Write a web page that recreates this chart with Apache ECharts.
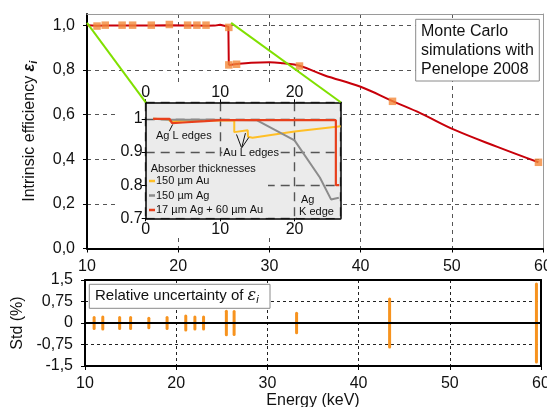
<!DOCTYPE html>
<html><head><meta charset="utf-8">
<script src="https://cdn.jsdelivr.net/npm/echarts@6/dist/echarts.min.js"></script>
<style>html,body{margin:0;padding:0;background:#fff}#c{width:547px;height:407px}</style>
</head><body><div id="c"></div>
<script>
// ---------- data ----------
const mainCurveLow = [[10,1.0],[11.1,0.997],[12,0.998],[13.9,0.998],[15.05,0.998],[17.07,0.999],[19.04,1.0],[21.02,0.998],[22.05,0.998],[23.1,0.997],[24.0,0.998],[24.6,1.002],[25.5,0.993],[25.55,0.821]];
const mainCurveHigh = [[25.55,0.821],[26.4,0.826],[28,0.832],[30,0.834],[31.5,0.829],[33.3,0.818],[36,0.776],[40,0.724],[43.5,0.66],[46.6,0.605],[50.25,0.532],[55,0.455],[59.5,0.386]];
const simEnergy = [11.1,12.0,13.85,15.0,17.05,19.03,21.03,22.05,23.05,25.55,25.55,26.4,33.3,43.5,59.5];
const simEff = [0.996,1.0,1.0,1.0,1.0,1.003,1.0,1.0,1.0,0.99,0.822,0.825,0.817,0.659,0.386];
const uncEnergy = [11.0,11.95,13.8,15.0,17.0,19.0,21.05,22.05,23.0,25.5,26.35,33.2,43.4,59.5];
const uncHalf = [0.19,0.21,0.19,0.19,0.17,0.19,0.24,0.21,0.21,0.41,0.4,0.34,0.84,1.36];
const inAu150 = [[1.0,1.0],[3.0,0.999],[3.3,0.993],[5,0.994],[8,0.995],[11.9,0.996],[11.9,0.96],[13.7,0.966],[13.75,0.946],[14.35,0.943],[20,0.962],[26.2,0.978]];
const inAg150 = [[1.0,1.0],[3.3,0.997],[8,0.997],[14.9,0.996],[20,0.935],[23.4,0.823],[24.9,0.757],[25.95,0.762]];
const inAgAu = [[1.0,1.0],[3.2,1.0],[3.55,0.987],[5,0.989],[8,0.993],[10,0.996],[20,0.996],[25.55,0.996],[25.55,0.8],[26.0,0.8]];
const agLPointer = [[3.17,0.963,3.62,0.983]];
const auLPointers = [[12.89,0.912,12.2,0.953],[12.89,0.912,13.4,0.957],[12.89,0.912,13.85,0.944]];
const mainXTicks = {min:10,max:60,interval:10};
const mainYTicks = {min:0,max:1.05,interval:0.2};
const stdYTicks = {min:-1.5,max:1.5,interval:0.75};
const insetX = {min:0,max:26.2,interval:10};
const insetY = {min:0.7,max:1.05,interval:0.1};
const zoomFrom = [[10,1.01],[25.8,1.01]];

const FF = 'Liberation Sans, Arial, sans-serif';
const chart = echarts.init(document.getElementById('c'), null, {renderer:'canvas'});
const comma = v => v.toFixed(1).replace('.', ',');
const stdFmt = v => v === 0 ? '0' : String(v).replace('.', ',');
const insetYFmt = v => Math.abs(v-1) < 1e-9 ? '1' : v.toFixed(1);
const lab = (m) => ({fontSize:16, color:'#111', fontFamily:FF, margin:m});
const none = {show:false};
const mainSplit = {show:true, lineStyle:{color:'#555', type:[4,4], width:1}};
const stdSplit = {show:true, lineStyle:{color:'#222', type:[3,3], width:1}};
const inSplit = {show:true, lineStyle:{color:'#555', type:[9,6], width:1.4}};

const option = {
  animation:false,
  textStyle:{fontFamily:FF},
  grid:[
    {left:87, right:4, top:14, bottom:158.5, z:0, outerBoundsMode:'none', containLabel:false},
    {left:85, right:6, top:280, bottom:41, z:0, outerBoundsMode:'none', containLabel:false},
    {left:145.7, right:206.3, top:102.3, bottom:188.7, z:2, show:true, backgroundColor:'#ebebeb', borderWidth:0, outerBoundsMode:'none', containLabel:false}
  ],
  xAxis:[
    Object.assign({gridIndex:0, type:'value', position:'bottom', z:0,
      axisLine:{onZero:false, lineStyle:{color:'#000', width:2}},
      axisTick:{show:true, inside:false, length:4, lineStyle:{color:'#000'}},
      axisLabel:lab(10), splitLine:mainSplit}, mainXTicks),
    Object.assign({gridIndex:0, type:'value', position:'top', z:0,
      axisLine:{onZero:false, lineStyle:{color:'#9a9a9a', width:1}}, axisTick:none, axisLabel:none, splitLine:none}, mainXTicks),
    Object.assign({gridIndex:1, type:'value', position:'bottom', z:0,
      axisLine:{onZero:false, lineStyle:{color:'#000', width:2}},
      axisTick:{show:true, length:4, lineStyle:{color:'#000'}},
      axisLabel:lab(10), splitLine:stdSplit,
      name:'Energy (keV)', nameLocation:'middle', nameGap:26,
      nameTextStyle:{fontSize:16, color:'#111', fontFamily:FF}}, mainXTicks),
    Object.assign({gridIndex:1, type:'value', position:'top', z:0,
      axisLine:{onZero:false, lineStyle:{color:'#000', width:2}}, axisTick:none, axisLabel:none, splitLine:none}, mainXTicks),
    Object.assign({gridIndex:2, type:'value', position:'bottom', z:3,
      axisLine:{onZero:false, lineStyle:{color:'#000', width:1.5}},
      axisTick:{show:true, length:3, lineStyle:{color:'#000'}},
      axisLabel:Object.assign(lab(3),{showMaxLabel:false}), splitLine:inSplit}, insetX),
    Object.assign({gridIndex:2, type:'value', position:'top', z:3,
      axisLine:{onZero:false, lineStyle:{color:'#000', width:1.5}},
      axisTick:{show:true, length:3, lineStyle:{color:'#000'}},
      axisLabel:Object.assign(lab(2),{showMaxLabel:false}), splitLine:none}, insetX)
  ],
  yAxis:[
    Object.assign({gridIndex:0, type:'value', position:'left', z:0,
      axisLine:{onZero:false, lineStyle:{color:'#000', width:2}},
      axisTick:{show:true, length:4, lineStyle:{color:'#000'}},
      axisLabel:Object.assign(lab(12),{formatter:comma, showMaxLabel:false}), splitLine:mainSplit,
      name:'{t|Intrinsic efficiency }{e|ε}{s|i}', nameLocation:'middle', nameGap:48,
      nameTextStyle:{color:'#111', rich:{
        t:{fontSize:16, fontFamily:FF, color:'#111'},
        e:{fontSize:16, fontFamily:FF, fontWeight:'bold', fontStyle:'italic', color:'#111'},
        s:{fontSize:11, fontFamily:FF, fontWeight:'bold', fontStyle:'italic', color:'#111', verticalAlign:'bottom', padding:[8,0,0,0]}}}}, mainYTicks),
    Object.assign({gridIndex:0, type:'value', position:'right', z:0,
      axisLine:{onZero:false, lineStyle:{color:'#9a9a9a', width:1}}, axisTick:none, axisLabel:none, splitLine:none}, mainYTicks),
    Object.assign({gridIndex:1, type:'value', position:'left', z:0,
      axisLine:{onZero:false, lineStyle:{color:'#000', width:2}},
      axisTick:{show:true, length:4, lineStyle:{color:'#000'}},
      axisLabel:Object.assign(lab(12),{formatter:stdFmt}), splitLine:stdSplit,
      name:'Std (%)', nameLocation:'middle', nameGap:52,
      nameTextStyle:{fontSize:16, color:'#111', fontFamily:FF}}, stdYTicks),
    Object.assign({gridIndex:1, type:'value', position:'right', z:0,
      axisLine:{onZero:false, lineStyle:{color:'#000', width:2}}, axisTick:none, axisLabel:none, splitLine:none}, stdYTicks),
    Object.assign({gridIndex:2, type:'value', position:'left', z:3,
      axisLine:{onZero:false, lineStyle:{color:'#000', width:1.5}},
      axisTick:{show:true, length:4, lineStyle:{color:'#000'}},
      axisLabel:Object.assign(lab(3),{formatter:insetYFmt, showMaxLabel:false}), splitLine:inSplit}, insetY),
    Object.assign({gridIndex:2, type:'value', position:'right', z:3,
      axisLine:{onZero:false, lineStyle:{color:'#000', width:1.5}}, axisTick:none, axisLabel:none, splitLine:none}, insetY)
  ],
  legend:{
    orient:'vertical', left:149, top:174.5, padding:0, itemGap:1.5, itemWidth:6, itemHeight:2.5,
    icon:'rect', z:6, data:['150 µm Au','150 µm Ag','17 µm Ag + 60 µm Au'],
    textStyle:{fontSize:11, lineHeight:13, color:'#111', fontFamily:FF, padding:[0,0,0,-4]}
  },
  series:[
    {name:'main-low', type:'line', xAxisIndex:0, yAxisIndex:0, data:mainCurveLow, showSymbol:false, z:3,
      lineStyle:{color:'#c8000a', width:2}, color:'#c8000a'},
    {name:'main-high', type:'line', xAxisIndex:0, yAxisIndex:0, data:mainCurveHigh, showSymbol:false, smooth:0.4, z:3,
      lineStyle:{color:'#c8000a', width:2}, color:'#c8000a'},
    {name:'sim', type:'scatter', xAxisIndex:0, yAxisIndex:0, symbol:'rect', symbolSize:7.5, z:4,
      data:simEnergy.map((e,i)=>[e, simEff[i]]), itemStyle:{color:'#f2883a'}},
    {name:'unc', type:'custom', xAxisIndex:2, yAxisIndex:2, z:3,
      data:uncEnergy.map((e,i)=>[e, uncHalf[i]]),
      renderItem:(params, api)=>{
        const a = api.coord([api.value(0), -api.value(1)]);
        const b = api.coord([api.value(0), api.value(1)]);
        return {type:'line', shape:{x1:a[0],y1:a[1],x2:b[0],y2:b[1]}, style:{stroke:'#f7931e', lineWidth:3, lineCap:'round'}};
      },
      markLine:{silent:true, symbol:['none','none'], label:{show:false}, z:4,
        lineStyle:{color:'#000', width:2, type:'solid'}, data:[{yAxis:0}]}},
    {name:'150 µm Au', type:'line', xAxisIndex:4, yAxisIndex:4, data:inAu150, showSymbol:false, z:4,
      lineStyle:{color:'#ffbf26', width:2}, color:'#ffbf26'},
    {name:'150 µm Ag', type:'line', xAxisIndex:4, yAxisIndex:4, data:inAg150, showSymbol:false, z:4,
      lineStyle:{color:'#8c8c8c', width:2}, color:'#8c8c8c'},
    {name:'17 µm Ag + 60 µm Au', type:'line', xAxisIndex:4, yAxisIndex:4, data:inAgAu, showSymbol:false, z:5,
      lineStyle:{color:'#e8401c', width:2.2}, color:'#e8401c'},
    {name:'pointers', type:'custom', xAxisIndex:4, yAxisIndex:4, z:7,
      data:agLPointer.concat(auLPointers),
      renderItem:(params, api)=>{
        const a = api.coord([api.value(0), api.value(1)]);
        const b = api.coord([api.value(2), api.value(3)]);
        return {type:'line', shape:{x1:a[0],y1:a[1],x2:b[0],y2:b[1]}, style:{stroke:'#111', lineWidth:1}};
      }}
  ]
};
chart.setOption(option);

// connector lines from main chart to inset corners
const p0 = chart.convertToPixel({xAxisIndex:0, yAxisIndex:0}, zoomFrom[0]);
const p1 = chart.convertToPixel({xAxisIndex:0, yAxisIndex:0}, zoomFrom[1]);
const q0 = chart.convertToPixel({xAxisIndex:4, yAxisIndex:4}, [insetX.min, insetY.max]);
const q1 = chart.convertToPixel({xAxisIndex:4, yAxisIndex:4}, [insetX.max, insetY.max]);

const txt = (x, y, s, size, extra) => Object.assign({type:'text', x:x, y:y, z:8,
  style:Object.assign({text:s, fontSize:size, fontFamily:FF, fill:'#111', verticalAlign:'middle'}, extra||{})});

chart.setOption({graphic:{elements:[
  {type:'rect', z:1, shape:{x:118, y:84, width:225, height:150}, style:{fill:'#fff'}},
  {type:'rect', z:4, shape:{x:147, y:160, width:121, height:57.5}, style:{fill:'#ebebeb'}},
  {type:'line', z:8, shape:{x1:p0[0], y1:p0[1], x2:q0[0], y2:q0[1]}, style:{stroke:'#80e000', lineWidth:2}},
  {type:'line', z:8, shape:{x1:p1[0], y1:p1[1], x2:q1[0], y2:q1[1]}, style:{stroke:'#80e000', lineWidth:2}},
  txt(150.7, 169.3, 'Absorber thicknesses', 11),
  txt(156, 135.5, 'Ag L edges', 11),
  txt(222.3, 153.3, 'Au L edges', 11, {backgroundColor:'#ebebeb', padding:[0,1]}),
  txt(300, 200, 'Ag', 11, {backgroundColor:'#ebebeb', padding:[0,1]}),
  txt(297, 212.3, 'K edge', 11, {backgroundColor:'#ebebeb', padding:[0,2]}),
  {type:'rect', z:7, shape:{x:415.7, y:19.3, width:123.6, height:61.7}, style:{fill:'#fff', stroke:'#8a8a8a', lineWidth:1}},
  txt(421, 31.7, 'Monte Carlo', 16),
  txt(421, 50.7, 'simulations with', 16),
  txt(421, 69.3, 'Penelope 2008', 16),
  {type:'rect', z:7, shape:{x:89.3, y:284.3, width:180.7, height:24}, style:{fill:'#fff', stroke:'#8a8a8a', lineWidth:1}},
  {type:'text', x:95, y:296.3, z:8, style:{text:'{a|Relative uncertainty of }{b|ε}{c|i}', verticalAlign:'middle',
    rich:{a:{fontSize:15, fontFamily:FF, fill:'#111'}, b:{fontSize:16, fontFamily:'DejaVu Serif, serif', fontStyle:'italic', fill:'#111'},
          c:{fontSize:11, fontFamily:FF, fontStyle:'italic', fill:'#111', verticalAlign:'bottom', padding:[7,0,0,0]}}}}
]}});
</script></body></html>
